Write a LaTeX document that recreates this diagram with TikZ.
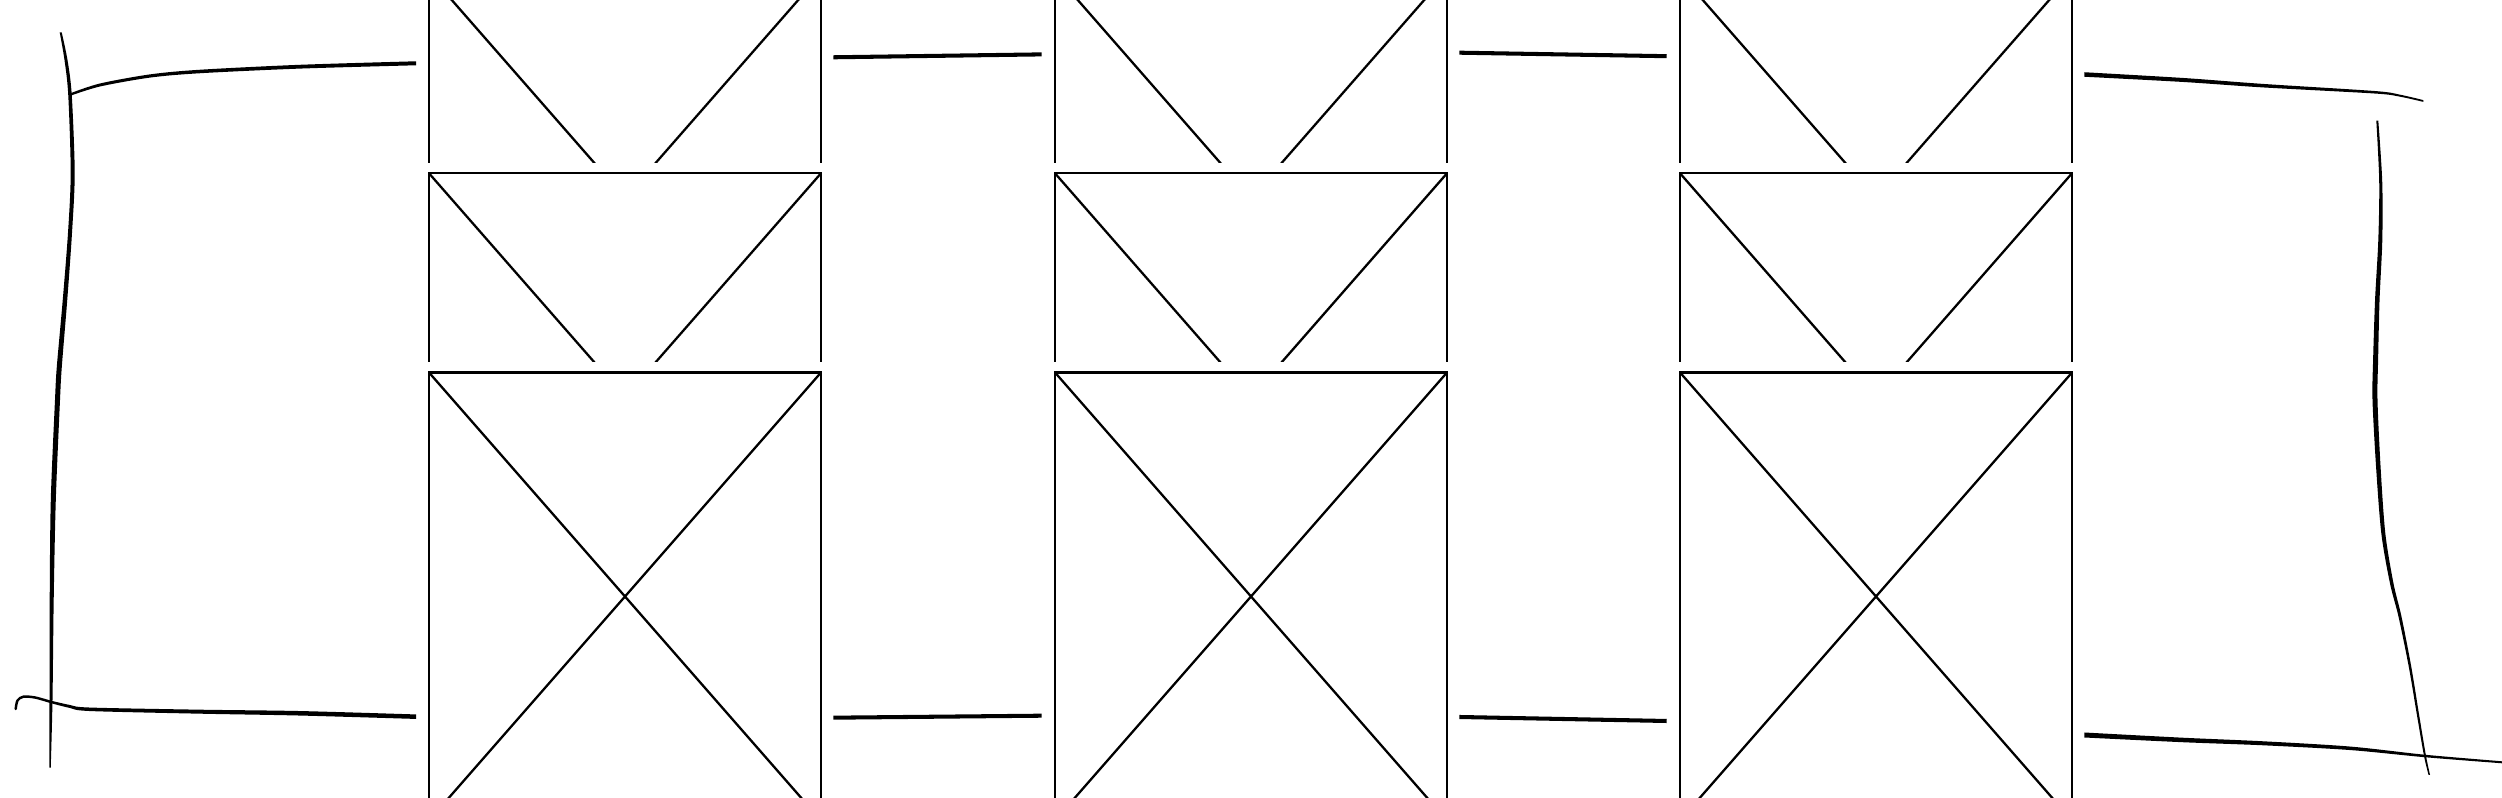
\documentclass[tikz,border=0pt]{standalone}
\begin{document}
\begin{tikzpicture}[x=0.01cm,y=-0.01cm,
  xbox/.style={draw, rectangle, line width=0.65pt, minimum width=3.92cm, minimum height=4.48cm,
    inner sep=0pt, outer sep=0pt,
    path picture={\draw[line width=0.65pt]
      (path picture bounding box.north west) -- (path picture bounding box.south east)
      (path picture bounding box.north east) -- (path picture bounding box.south west);}},
  link/.style={line width=1.15pt, line cap=butt},
  sketchthin/.style={line width=0.7pt, line cap=round, line join=round},
  stroke/.style={fill=black, draw=none}]
\useasboundingbox (0,0) rectangle (2502,798);

% row 1 of boxes (clipped)
\begin{scope}
\clip (0,0) rectangle (2502,162.5);
\node[xbox] (a1) at (625,198) {};
\node[xbox] (b1) at (1251,198) {};
\node[xbox] (c1) at (1876,198) {};
\end{scope}
% row 2
\begin{scope}
\clip (0,165) rectangle (2502,361.5);
\node[xbox] (a2) at (625,397.3) {};
\node[xbox] (b2) at (1251,397.3) {};
\node[xbox] (c2) at (1876,397.3) {};
\end{scope}
% row 3
\begin{scope}
\clip (0,365) rectangle (2502,798);
\node[xbox] (a3) at (625,596.5) {};
\node[xbox] (b3) at (1251,596.5) {};
\node[xbox] (c3) at (1876,596.5) {};
\end{scope}

% links between columns
\coordinate (tab1) at (833.3,57.3);
\coordinate (tab2) at (1041.7,54.4);
\coordinate (tbc1) at (1459.3,52.7);
\coordinate (tbc2) at (1666.7,56.2);
\coordinate (bab1) at (833.3,717.7);
\coordinate (bab2) at (1041.7,715.7);
\coordinate (bbc1) at (1459.3,717);
\coordinate (bbc2) at (1666.7,721);
\draw[link] (tab1) -- (tab2);
\draw[link] (tbc1) -- (tbc2);
\draw[link] (bab1) -- (bab2);
\draw[link] (bbc1) -- (bbc2);

% left bracket: vertical stroke (tapered)
\fill[stroke] plot[smooth] coordinates {(59.7,32.3) (64.5,60) (68.25,95) (70.7,173) (68,233) (62.75,300) (56.8,367) (55,400) (50.8,500) (49.7,600) (49.5,700) (49.25,767.7)}
  -- plot[smooth] coordinates {(50.75,767.7) (52.5,700) (53.7,600) (55.8,500) (60,400) (61.8,367) (67.25,300) (72,233) (74.7,173) (71.75,95) (67.5,60) (61.7,32.3)} -- cycle;
% left bracket: top arm
\fill[stroke] plot[smooth] coordinates {(71,93.05) (100,83.5) (150,74.4) (200,69.75) (300,64.8) (416,61.3)}
  -- plot[smooth] coordinates {(416,65.3) (300,68.6) (200,73.25) (150,77.6) (100,86.5) (71,95.55)} -- cycle;
% left bracket: bottom arm with hook
\draw[sketchthin] plot[smooth] coordinates {(15.7,709) (17.5,700.5) (23.3,696.7) (35,697.5) (50,701.7)};
\fill[stroke] plot[smooth] coordinates {(50,700.45) (70,705) (90,707.55) (200,709.7) (300,711.05) (416,714.45)}
  -- plot[smooth] coordinates {(416,718.95) (300,715.55) (200,713.7) (90,711.05) (70,708) (50,702.95)} -- cycle;

% right bracket: top arm
\fill[stroke] plot[smooth] coordinates {(2084.3,72.25) (2183.3,78) (2263.3,83.95) (2375,91.05) (2400,94.7) (2423.3,100.1)}
  -- plot[smooth] coordinates {(2423.3,101.9) (2400,96.7) (2375,93.55) (2263.3,87.45) (2183.3,82) (2084.3,76.75)} -- cycle;
% right bracket: vertical stroke
\fill[stroke] plot[smooth] coordinates {(2376.3,120.7) (2379.2,181) (2378.3,240) (2375.05,300) (2373.1,360) (2372.5,400) (2376.05,466.7) (2381.3,533.3) (2389.95,583.3) (2398.5,616.7) (2408.75,666.7) (2417.2,716.7) (2424,756) (2428.55,775)}
  -- plot[smooth] coordinates {(2430.05,775) (2426,756) (2419.4,716.7) (2411.25,666.7) (2401.5,616.7) (2393.45,583.3) (2385.3,533.3) (2380.55,466.7) (2377.5,400) (2378.1,360) (2379.55,300) (2382.3,240) (2382.2,181) (2378.3,120.7)} -- cycle;
% right bracket: bottom arm
\fill[stroke] plot[smooth] coordinates {(2084.3,732.5) (2183.3,737.75) (2263.3,741.3) (2350,746.55) (2425,754.75) (2502,761.3)}
  -- plot[smooth] coordinates {(2502,763.3) (2425,757.25) (2350,750.05) (2263.3,745.3) (2183.3,742.25) (2084.3,737.5)} -- cycle;
\end{tikzpicture}
\end{document}
